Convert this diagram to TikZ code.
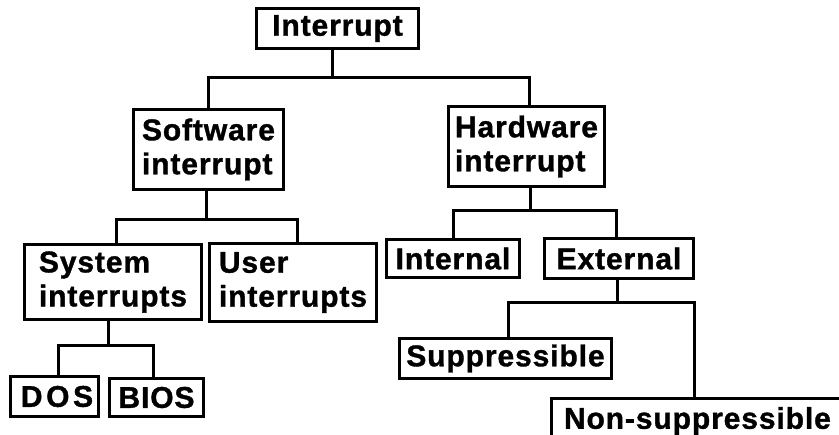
\documentclass[tikz,border=0pt]{standalone}
\usepackage{fontspec}
\newfontfamily\boxfont{Liberation Sans}[LetterSpace=3,FakeBold=1.2]
\newfontfamily\widefont{Liberation Sans}[LetterSpace=12,FakeBold=1.2]
\begin{document}
\begin{tikzpicture}[x=1pt,y=-1pt,
  box/.style={draw, line width=3pt, inner sep=0pt, anchor=north west, align=left,
    font=\boxfont\bfseries\fontsize{30}{34}\selectfont},
  widebox/.style={box, font=\widefont\bfseries\fontsize{30}{34}\selectfont},
  conn/.style={line width=3pt}]
\fill[white] (0,0) rectangle (839,435);
\useasboundingbox (0,0) rectangle (839,435);
% boxes
\node[box, minimum width=162pt, minimum height=40pt] (intr) at (255,7) {Interrupt};
\node[box, minimum width=150pt, minimum height=80pt] (sw) at (132,108) {Software\\interrupt};
\node[box, minimum width=156pt, minimum height=80pt] (hw) at (447,105) {Hardware\\interrupt};
\node[box, minimum width=177pt, minimum height=75pt] (sys) at (23,243) {System\\interrupts};
\node[box, minimum width=167pt, minimum height=78pt] (usr) at (208,242) {User\\interrupts};
\node[box, minimum width=133pt, minimum height=38pt] (int) at (385,238) {Internal};
\node[box, minimum width=149pt, minimum height=40pt] (ext) at (543,237) {External};
\node[box, minimum width=212pt, minimum height=40pt] (sup) at (398,337) {Suppressible};
\node[box, minimum width=295pt, minimum height=45pt, text width=270pt] (non) at (550,397) {Non-suppressible};
\node[widebox, minimum width=88pt, minimum height=40pt] (dos) at (9,375) {\hspace*{5pt}DOS};
\node[box, minimum width=94pt, minimum height=38pt] (bios) at (108,377) {BIOS};
% junctions
\coordinate (j1) at ([xshift=-5pt,yshift=-28pt]intr.south);
\coordinate (j2) at ([xshift=-2pt,yshift=-29pt]sw.south);
\coordinate (j3) at ([xshift=4pt,yshift=-23pt]hw.south);
\coordinate (j4) at ([xshift=-1.5pt,yshift=-23pt]ext.south);
\coordinate (j5) at ([xshift=-4.5pt,yshift=-25pt]sys.south);
% connectors
\draw[conn] ([xshift=-5pt]intr.south) -- (j1);
\draw[conn] (sw.north) |- (j1) -| ([xshift=3pt]hw.north);
\draw[conn] ([xshift=-2pt]sw.south) -- (j2);
\draw[conn] ([xshift=3.5pt]sys.north) |- (j2) -| ([xshift=4.5pt]usr.north);
\draw[conn] ([xshift=4pt]hw.south) -- (j3);
\draw[conn] (int.north) |- (j3) -| ([xshift=-2.5pt]ext.north);
\draw[conn] ([xshift=-1.5pt]ext.south) -- (j4);
\draw[conn] ([xshift=3pt]sup.north) |- (j4) -| ([xshift=144pt]non.north west);
\draw[conn] ([xshift=-4.5pt]sys.south) -- (j5);
\draw[conn] ([xshift=4pt]dos.north) |- (j5) -| ([xshift=-3pt]bios.north);
\end{tikzpicture}
\end{document}
